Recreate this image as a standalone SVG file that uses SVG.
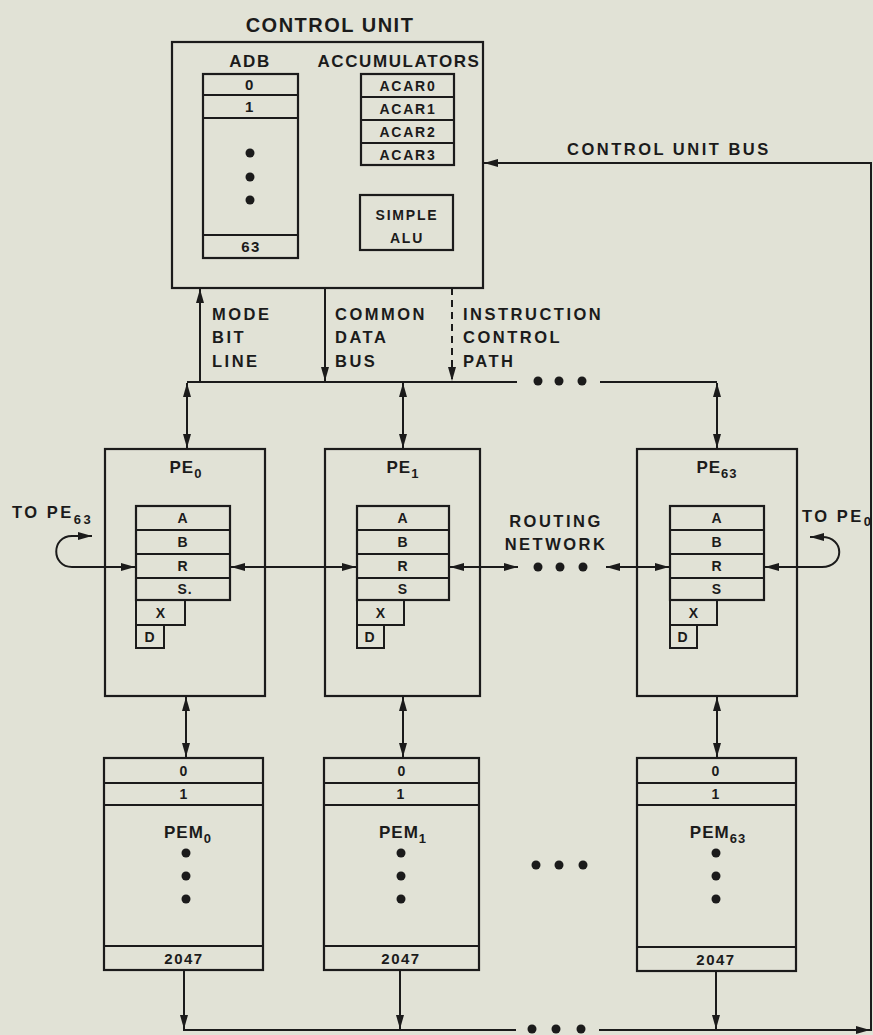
<svg xmlns="http://www.w3.org/2000/svg" width="873" height="1035" viewBox="0 0 873 1035">
<defs>
<style>
.bx{fill:none;stroke:#1b1b1b;stroke-width:2.2}
.ln{fill:none;stroke:#1b1b1b;stroke-width:2}
.dash{fill:none;stroke:#1b1b1b;stroke-width:2;stroke-dasharray:7,5}
.dot{fill:#1b1b1b}
text{font-family:"Liberation Sans","DejaVu Sans",sans-serif;fill:#1b1b1b;font-weight:bold}
.tl{font-size:20px;letter-spacing:1.5px}
.lb{font-size:16.5px;letter-spacing:2.5px}
.hd{font-size:17px;letter-spacing:1.6px}
.rg{font-size:14px;letter-spacing:1px}
.nm{font-size:15px;letter-spacing:1.5px}
.ac{font-size:14px;letter-spacing:1.8px}
.pe{font-size:17px;letter-spacing:1px}
.sb{font-size:13px}
.m{text-anchor:middle}
</style>
<marker id="ah" viewBox="0 0 14 8" refX="14" refY="4" markerWidth="14" markerHeight="8" markerUnits="userSpaceOnUse" orient="auto-start-reverse">
<path d="M0,0 L14,4 L0,8 z" fill="#1b1b1b"/>
</marker>
</defs>
<rect x="0" y="0" width="873" height="1035" fill="#e1e2d6"/>

<g id="control-unit">
<text class="tl m" x="330" y="32">CONTROL UNIT</text>
<rect class="bx" x="172" y="42" width="311" height="246"/>
<text class="hd m" x="250" y="67">ADB</text>
<text class="hd m" x="399" y="67">ACCUMULATORS</text>
<g id="adb">
<rect class="bx" x="203" y="74" width="95" height="184"/>
<line class="ln" x1="203" y1="95" x2="298" y2="95"/>
<line class="ln" x1="203" y1="118" x2="298" y2="118"/>
<line class="ln" x1="203" y1="235" x2="298" y2="235"/>
<text class="nm m" x="250" y="90">0</text>
<text class="nm m" x="250" y="112">1</text>
<circle class="dot" cx="250" cy="153" r="4.5"/>
<circle class="dot" cx="250" cy="177" r="4.5"/>
<circle class="dot" cx="250" cy="200" r="4.5"/>
<text class="nm m" x="251" y="252">63</text>
</g>
<g id="accumulators">
<rect class="bx" x="361" y="74" width="93" height="91"/>
<line class="ln" x1="361" y1="97" x2="454" y2="97"/>
<line class="ln" x1="361" y1="120" x2="454" y2="120"/>
<line class="ln" x1="361" y1="143" x2="454" y2="143"/>
<text class="ac m" x="408" y="91">ACAR0</text>
<text class="ac m" x="408" y="114">ACAR1</text>
<text class="ac m" x="408" y="137">ACAR2</text>
<text class="ac m" x="408" y="160">ACAR3</text>
</g>
<g id="alu">
<rect class="bx" x="360" y="195" width="93" height="55"/>
<text class="ac m" x="407" y="220">SIMPLE</text>
<text class="ac m" x="407" y="243">ALU</text>
</g>
</g>

<g id="pe0">
<rect class="bx" x="105" y="449" width="160" height="247"/>
<text class="pe m" x="186" y="473">PE<tspan class="sb" dy="5">0</tspan></text>
<rect class="bx" x="136" y="506" width="94" height="94"/>
<line class="ln" x1="136" y1="530" x2="230" y2="530"/>
<line class="ln" x1="136" y1="554" x2="230" y2="554"/>
<line class="ln" x1="136" y1="578" x2="230" y2="578"/>
<text class="rg m" x="183" y="523">A</text>
<text class="rg m" x="183" y="547">B</text>
<text class="rg m" x="183" y="571">R</text>
<text class="rg m" x="185" y="594">S.</text>
<path class="ln" d="M136,600 V625 H185 V600"/>
<text class="rg m" x="161" y="618">X</text>
<path class="ln" d="M136,625 V648 H164 V625"/>
<text class="rg m" x="150" y="642">D</text>
</g>

<g id="pe1">
<rect class="bx" x="325" y="449" width="155" height="247"/>
<text class="pe m" x="403" y="473">PE<tspan class="sb" dy="5">1</tspan></text>
<rect class="bx" x="357" y="506" width="92" height="94"/>
<line class="ln" x1="357" y1="530" x2="449" y2="530"/>
<line class="ln" x1="357" y1="554" x2="449" y2="554"/>
<line class="ln" x1="357" y1="578" x2="449" y2="578"/>
<text class="rg m" x="403" y="523">A</text>
<text class="rg m" x="403" y="547">B</text>
<text class="rg m" x="403" y="571">R</text>
<text class="rg m" x="403" y="594">S</text>
<path class="ln" d="M357,600 V625 H404 V600"/>
<text class="rg m" x="381" y="618">X</text>
<path class="ln" d="M357,625 V648 H384 V625"/>
<text class="rg m" x="370" y="642">D</text>
</g>

<g id="pe63">
<rect class="bx" x="637" y="449" width="160" height="247"/>
<text class="pe m" x="717" y="473">PE<tspan class="sb" dy="5">63</tspan></text>
<rect class="bx" x="670" y="506" width="94" height="94"/>
<line class="ln" x1="670" y1="530" x2="764" y2="530"/>
<line class="ln" x1="670" y1="554" x2="764" y2="554"/>
<line class="ln" x1="670" y1="578" x2="764" y2="578"/>
<text class="rg m" x="717" y="523">A</text>
<text class="rg m" x="717" y="547">B</text>
<text class="rg m" x="717" y="571">R</text>
<text class="rg m" x="717" y="594">S</text>
<path class="ln" d="M670,600 V625 H717 V600"/>
<text class="rg m" x="694" y="618">X</text>
<path class="ln" d="M670,625 V648 H697 V625"/>
<text class="rg m" x="683" y="642">D</text>
</g>

<g id="pem0">
<rect class="bx" x="104" y="758" width="159" height="212"/>
<line class="ln" x1="104" y1="783" x2="263" y2="783"/>
<line class="ln" x1="104" y1="805" x2="263" y2="805"/>
<line class="ln" x1="104" y1="946" x2="263" y2="946"/>
<text class="rg m" x="184" y="776">0</text>
<text class="rg m" x="184" y="799">1</text>
<text class="pe m" x="188" y="838">PEM<tspan class="sb" dy="5">0</tspan></text>
<circle class="dot" cx="186" cy="853" r="4.5"/>
<circle class="dot" cx="186" cy="876" r="4.5"/>
<circle class="dot" cx="186" cy="899" r="4.5"/>
<text class="nm m" x="184" y="964">2047</text>
</g>

<g id="pem1">
<rect class="bx" x="324" y="758" width="155" height="212"/>
<line class="ln" x1="324" y1="783" x2="479" y2="783"/>
<line class="ln" x1="324" y1="805" x2="479" y2="805"/>
<line class="ln" x1="324" y1="946" x2="479" y2="946"/>
<text class="rg m" x="402" y="776">0</text>
<text class="rg m" x="401" y="799">1</text>
<text class="pe m" x="403" y="838">PEM<tspan class="sb" dy="5">1</tspan></text>
<circle class="dot" cx="401" cy="853" r="4.5"/>
<circle class="dot" cx="401" cy="876" r="4.5"/>
<circle class="dot" cx="401" cy="899" r="4.5"/>
<text class="nm m" x="401" y="964">2047</text>
</g>

<g id="pem63">
<rect class="bx" x="637" y="758" width="159" height="213"/>
<line class="ln" x1="637" y1="783" x2="796" y2="783"/>
<line class="ln" x1="637" y1="805" x2="796" y2="805"/>
<line class="ln" x1="637" y1="947" x2="796" y2="947"/>
<text class="rg m" x="716" y="776">0</text>
<text class="rg m" x="716" y="799">1</text>
<text class="pe m" x="718" y="838">PEM<tspan class="sb" dy="5">63</tspan></text>
<circle class="dot" cx="716" cy="853" r="4.5"/>
<circle class="dot" cx="716" cy="876" r="4.5"/>
<circle class="dot" cx="716" cy="899" r="4.5"/>
<text class="nm m" x="716" y="965">2047</text>
</g>

<g id="connectors">
<line class="ln" x1="200" y1="382" x2="200" y2="289" marker-end="url(#ah)"/>
<line class="ln" x1="325" y1="288" x2="325" y2="381" marker-end="url(#ah)"/>
<line class="dash" x1="452" y1="288" x2="452" y2="381" marker-end="url(#ah)"/>
<text class="lb" x="212" y="320">MODE</text>
<text class="lb" x="212" y="343">BIT</text>
<text class="lb" x="212" y="367">LINE</text>
<text class="lb" x="335" y="320">COMMON</text>
<text class="lb" x="335" y="343">DATA</text>
<text class="lb" x="335" y="367">BUS</text>
<text class="lb" x="463" y="320">INSTRUCTION</text>
<text class="lb" x="463" y="343">CONTROL</text>
<text class="lb" x="463" y="367">PATH</text>
<line class="ln" x1="187" y1="382" x2="517" y2="382"/>
<circle class="dot" cx="538" cy="381" r="4.5"/>
<circle class="dot" cx="559" cy="381" r="4.5"/>
<circle class="dot" cx="582" cy="381" r="4.5"/>
<line class="ln" x1="600" y1="382" x2="717" y2="382"/>
<line class="ln" x1="187" y1="383" x2="187" y2="448" marker-start="url(#ah)" marker-end="url(#ah)"/>
<line class="ln" x1="403" y1="383" x2="403" y2="448" marker-start="url(#ah)" marker-end="url(#ah)"/>
<line class="ln" x1="717" y1="383" x2="717" y2="448" marker-start="url(#ah)" marker-end="url(#ah)"/>
<path class="ln" d="M92,536 L72,536 C51,536 51,567 72,567 L135,567" marker-start="url(#ah)" marker-end="url(#ah)"/>
<text class="lb" x="12" y="518">TO PE<tspan class="sb" dy="6">63</tspan></text>
<line class="ln" x1="231" y1="567" x2="356" y2="567" marker-start="url(#ah)" marker-end="url(#ah)"/>
<line class="ln" x1="450" y1="567" x2="518" y2="567" marker-start="url(#ah)" marker-end="url(#ah)"/>
<text class="lb m" x="556" y="527">ROUTING</text>
<text class="lb m" x="556" y="550">NETWORK</text>
<circle class="dot" cx="538" cy="567" r="4.5"/>
<circle class="dot" cx="560" cy="567" r="4.5"/>
<circle class="dot" cx="583" cy="567" r="4.5"/>
<line class="ln" x1="606" y1="567" x2="669" y2="567" marker-start="url(#ah)" marker-end="url(#ah)"/>
<path class="ln" d="M765,567 L822,567 C845,567 845,537 822,537 L810,537" marker-start="url(#ah)" marker-end="url(#ah)"/>
<text class="lb" x="802" y="522">TO PE<tspan class="sb" dy="4">0</tspan></text>
<line class="ln" x1="186" y1="697" x2="186" y2="757" marker-start="url(#ah)" marker-end="url(#ah)"/>
<line class="ln" x1="403" y1="697" x2="403" y2="757" marker-start="url(#ah)" marker-end="url(#ah)"/>
<line class="ln" x1="717" y1="697" x2="717" y2="757" marker-start="url(#ah)" marker-end="url(#ah)"/>
<circle class="dot" cx="536" cy="865" r="4.5"/>
<circle class="dot" cx="559" cy="865" r="4.5"/>
<circle class="dot" cx="583" cy="865" r="4.5"/>
<line class="ln" x1="184" y1="971" x2="184" y2="1029" marker-end="url(#ah)"/>
<line class="ln" x1="400" y1="971" x2="400" y2="1029" marker-end="url(#ah)"/>
<line class="ln" x1="716" y1="972" x2="716" y2="1029" marker-end="url(#ah)"/>
<line class="ln" x1="183" y1="1030" x2="516" y2="1030"/>
<circle class="dot" cx="532" cy="1029" r="4.5"/>
<circle class="dot" cx="556" cy="1029" r="4.5"/>
<circle class="dot" cx="581" cy="1029" r="4.5"/>
<line class="ln" x1="599" y1="1030" x2="870" y2="1030" marker-end="url(#ah)"/>
<path class="ln" d="M871,1031 L871,163 L484,163" marker-end="url(#ah)"/>
<text class="lb" x="567" y="155">CONTROL UNIT BUS</text>
</g>
</svg>
